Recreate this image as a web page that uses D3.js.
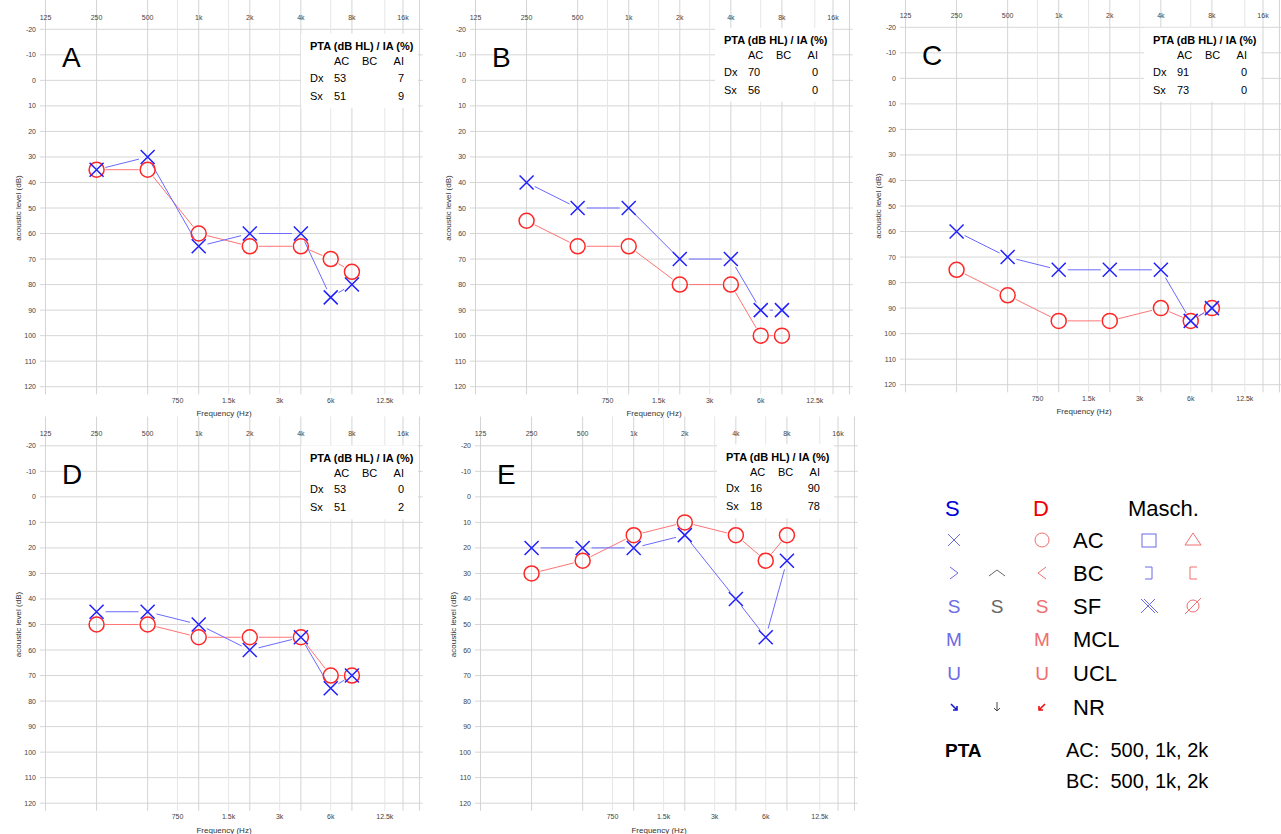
<!DOCTYPE html>
<html>
<head>
<meta charset="utf-8">
<script src="https://cdn.jsdelivr.net/npm/d3@7"></script>
<style>
body { margin: 0; background: #fff; }
text { font-family: "Liberation Sans", Arial, sans-serif; }
</style>
</head>
<body>
<script>
var freqs = [250, 500, 1000, 2000, 4000, 6000, 8000];

// Sx = left ear (blue X), Dx = right ear (red O), air conduction in dB HL
var sxA = [35, 30, 65, 60, 60, 85, 80];
var dxA = [35, 35, 60, 65, 65, 70, 75];
var sxB = [40, 50, 50, 70, 70, 90, 90];
var dxB = [55, 65, 65, 80, 80, 100, 100];
var sxC = [60, 70, 75, 75, 75, 95, 90];
var dxC = [75, 85, 95, 95, 90, 95, 90];
var sxD = [45, 45, 50, 60, 55, 75, 70];
var dxD = [50, 50, 55, 55, 55, 70, 70];
var sxE = [20, 20, 20, 15, 40, 55, 25];
var dxE = [30, 25, 15, 10, 15, 25, 15];

var panelNames = ["A", "B", "C", "D", "E"];
var ptaDx = [53, 70, 91, 53, 16];
var ptaSx = [51, 56, 73, 51, 18];
var aiDx = [7, 0, 0, 0, 90];
var aiSx = [9, 0, 0, 2, 78];

var topTicks = [125, 250, 500, 1000, 2000, 4000, 8000, 16000];
var topLabels = ["125", "250", "500", "1k", "2k", "4k", "8k", "16k"];
var midTicks = [750, 1500, 3000, 6000, 12500];
var midLabels = ["750", "1.5k", "3k", "6k", "12.5k"];
var levelTicks = [-20, -10, 0, 10, 20, 30, 40, 50, 60, 70, 80, 90, 100, 110, 120];

var sxAll = [sxA, sxB, sxC, sxD, sxE];
var dxAll = [dxA, dxB, dxC, dxD, dxE];

// panel placement on the page (and where the PTA box sits inside each)
var layout = [
  {x: 0,   y: 0,     bx: 310, by: 46.7},
  {x: 430, y: 0,     bx: 294, by: 40.7},
  {x: 860, y: -2,    bx: 293, by: 42.7},
  {x: 0,   y: 416.5, bx: 310, by: 41.8},
  {x: 435, y: 416.5, bx: 291, by: 40.8}
];

var blue = "#2020ff", red = "#ff2626";
var blueLine = "#6a6aff", redLine = "#ff7474";

var svg = d3.select("body")
  .append("svg")
  .attr("width", 1281)
  .attr("height", 834);

var x = d3.scaleLog().domain([125, 16000]).range([45.5, 403]);
var y = d3.scaleLinear().domain([-20, 120]).range([29.3, 386.7]);

var left = x(116), right = x(20900), top = y(-22.7), bottom = y(123);

function linkSegments(g, pts, color) {
  var gap = 9;
  for (var i = 0; i < pts.length - 1; i++) {
    var a = pts[i], b = pts[i + 1];
    var dx = b[0] - a[0], dy = b[1] - a[1];
    var len = Math.sqrt(dx * dx + dy * dy);
    if (len <= gap * 2) continue;
    var ux = dx / len, uy = dy / len;
    g.append("line")
      .attr("x1", a[0] + ux * gap).attr("y1", a[1] + uy * gap)
      .attr("x2", b[0] - ux * gap).attr("y2", b[1] - uy * gap)
      .attr("stroke", color)
      .attr("stroke-width", 1);
  }
}

function drawPanel(i) {
  var L = layout[i];
  var g = svg.append("g").attr("transform", "translate(" + L.x + "," + L.y + ")");

  // grid
  g.selectAll(".hgrid").data(levelTicks).enter().append("line")
    .attr("x1", left).attr("x2", right)
    .attr("y1", function(d){ return y(d); }).attr("y2", function(d){ return y(d); })
    .attr("stroke", "#d6d6d6");
  g.selectAll(".vmid").data(midTicks).enter().append("line")
    .attr("x1", function(d){ return x(d); }).attr("x2", function(d){ return x(d); })
    .attr("y1", top).attr("y2", bottom)
    .attr("stroke", "#e6e6e6");
  g.selectAll(".vtop").data(topTicks.concat([20000])).enter().append("line")
    .attr("x1", function(d){ return x(d); }).attr("x2", function(d){ return x(d); })
    .attr("y1", top).attr("y2", bottom)
    .attr("stroke", "#d4d4d4");
  g.append("rect")
    .attr("x", left).attr("y", top)
    .attr("width", right - left).attr("height", bottom - top)
    .attr("fill", "none").attr("stroke", "#cfcfcf");

  // tick labels
  g.selectAll(".tl").data(topTicks).enter().append("text")
    .attr("x", function(d){ return x(d); }).attr("y", 19.5)
    .attr("text-anchor", "middle").attr("font-size", 7).attr("fill", "#444")
    .text(function(d, j){ return topLabels[j]; });
  g.selectAll(".bl").data(midTicks).enter().append("text")
    .attr("x", function(d){ return x(d); }).attr("y", 402.5)
    .attr("text-anchor", "middle").attr("font-size", 7).attr("fill", "#444")
    .text(function(d, j){ return midLabels[j]; });
  g.selectAll(".yl").data(levelTicks).enter().append("text")
    .attr("x", 36).attr("y", function(d){ return y(d) + 2.5; })
    .attr("text-anchor", "end").attr("font-size", 7).attr("fill", "#444")
    .text(function(d){ return d; });

  g.append("text")
    .attr("transform", "translate(21,208) rotate(-90)")
    .attr("text-anchor", "middle").attr("font-size", 8).attr("fill", "#333")
    .text("acoustic level (dB)");
  g.append("text")
    .attr("x", 224).attr("y", 416)
    .attr("text-anchor", "middle").attr("font-size", 8).attr("fill", "#333")
    .text("Frequency (Hz)");

  // panel letter
  g.append("text")
    .attr("x", 62).attr("y", 67)
    .attr("font-size", 28).attr("fill", "#000")
    .text(panelNames[i]);

  // PTA box
  var bx = L.bx, by = L.by;
  g.append("rect")
    .attr("x", bx - 9).attr("y", by - 13)
    .attr("width", 117).attr("height", 74)
    .attr("fill", "#fff");
  g.append("text").attr("x", bx).attr("y", by + 3.5)
    .attr("font-size", 11).attr("font-weight", "bold").text("PTA (dB HL) / IA (%)");
  var rows = [
    ["", "AC", "BC", "AI"],
    ["Dx", ptaDx[i], "", aiDx[i]],
    ["Sx", ptaSx[i], "", aiSx[i]]
  ];
  var rowY = [18.5, 35, 53];
  rows.forEach(function(r, k) {
    g.append("text").attr("x", bx).attr("y", by + rowY[k]).attr("font-size", 11).text(r[0]);
    g.append("text").attr("x", bx + 24).attr("y", by + rowY[k]).attr("font-size", 11).text(r[1]);
    g.append("text").attr("x", bx + 52).attr("y", by + rowY[k]).attr("font-size", 11).text(r[2]);
    g.append("text").attr("x", bx + 94).attr("y", by + rowY[k]).attr("font-size", 11)
      .attr("text-anchor", "end").text(r[3]);
  });

  // curves
  var dxPts = freqs.map(function(f, j){ return [x(f), y(dxAll[i][j])]; });
  var sxPts = freqs.map(function(f, j){ return [x(f), y(sxAll[i][j])]; });
  linkSegments(g, dxPts, redLine);
  linkSegments(g, sxPts, blueLine);

  g.selectAll(".o").data(dxPts).enter().append("circle")
    .attr("cx", function(d){ return d[0]; }).attr("cy", function(d){ return d[1]; })
    .attr("r", 7.5).attr("fill", "none").attr("stroke", red).attr("stroke-width", 1.5);
  g.selectAll(".x").data(sxPts).enter().append("path")
    .attr("d", function(d){
      return "M" + (d[0]-7) + "," + (d[1]-7) + "L" + (d[0]+7) + "," + (d[1]+7) +
             "M" + (d[0]-7) + "," + (d[1]+7) + "L" + (d[0]+7) + "," + (d[1]-7);
    })
    .attr("fill", "none").attr("stroke", blue).attr("stroke-width", 1.5);
}

for (var p = 0; p < 5; p++) drawPanel(p);

// ---- legend ----
var lg = svg.append("g");
var lBlue = "#6b6be6", lRed = "#ee6e6e", lGray = "#666";
var rowsY = {AC: 540, BC: 573, SF: 606, MCL: 639, UCL: 673, NR: 707};
var c1 = 954, c2 = 997, c3 = 1042, cl = 1073, m1 = 1149, m2 = 1193;

lg.append("text").attr("x", 945).attr("y", 516).attr("font-size", 22).attr("fill", "#0000dd").text("S");
lg.append("text").attr("x", 1033).attr("y", 516).attr("font-size", 22).attr("fill", "#ee0000").text("D");
lg.append("text").attr("x", 1128).attr("y", 516).attr("font-size", 22).attr("fill", "#000").text("Masch.");

Object.keys(rowsY).forEach(function(k) {
  lg.append("text").attr("x", cl).attr("y", rowsY[k] + 8).attr("font-size", 22).text(k);
});

function stroke(d, color, w) {
  lg.append("path").attr("d", d).attr("fill", "none")
    .attr("stroke", color).attr("stroke-width", w || 1);
}
function glyph(t, cx, cy, color) {
  lg.append("text").attr("x", cx).attr("y", cy + 7).attr("text-anchor", "middle")
    .attr("font-size", 19).attr("fill", color).text(t);
}

var yy = rowsY.AC;
stroke("M" + (c1-6) + "," + (yy-6) + "L" + (c1+6) + "," + (yy+6) + "M" + (c1-6) + "," + (yy+6) + "L" + (c1+6) + "," + (yy-6), lBlue);
lg.append("circle").attr("cx", c3).attr("cy", yy).attr("r", 7).attr("fill", "none").attr("stroke", lRed);
lg.append("rect").attr("x", m1 - 7).attr("y", yy - 6).attr("width", 14).attr("height", 13)
  .attr("fill", "none").attr("stroke", lBlue);
stroke("M" + (m2-8) + "," + (yy+5) + "L" + m2 + "," + (yy-7) + "L" + (m2+8) + "," + (yy+5) + "Z", lRed);

yy = rowsY.BC;
stroke("M" + (c1-4) + "," + (yy-6) + "L" + (c1+4) + "," + yy + "L" + (c1-4) + "," + (yy+6), lBlue);
stroke("M" + (c2-8) + "," + (yy+3) + "L" + c2 + "," + (yy-3) + "L" + (c2+8) + "," + (yy+3), lGray);
stroke("M" + (c3+4) + "," + (yy-6) + "L" + (c3-4) + "," + yy + "L" + (c3+4) + "," + (yy+6), lRed);
stroke("M" + (m1-4) + "," + (yy-6) + "L" + (m1+3) + "," + (yy-6) + "L" + (m1+3) + "," + (yy+6) + "L" + (m1-4) + "," + (yy+6), lBlue);
stroke("M" + (m2+4) + "," + (yy-6) + "L" + (m2-3) + "," + (yy-6) + "L" + (m2-3) + "," + (yy+6) + "L" + (m2+4) + "," + (yy+6), lRed);

yy = rowsY.SF;
glyph("S", c1, yy, lBlue);
glyph("S", c2, yy, lGray);
glyph("S", c3, yy, lRed);
stroke("M" + (m1-8) + "," + (yy-7) + "L" + (m1+6) + "," + (yy+7) + "M" + (m1-8) + "," + (yy+7) + "L" + (m1+6) + "," + (yy-7) +
       "M" + (m1-5) + "," + (yy-7) + "L" + (m1+9) + "," + (yy+7), lBlue);
lg.append("circle").attr("cx", m2).attr("cy", yy).attr("r", 6).attr("fill", "none").attr("stroke", lRed);
stroke("M" + (m2-8) + "," + (yy+8) + "L" + (m2+8) + "," + (yy-8), lRed);

glyph("M", c1, rowsY.MCL, lBlue);
glyph("M", c3, rowsY.MCL, lRed);
glyph("U", c1, rowsY.UCL, lBlue);
glyph("U", c3, rowsY.UCL, lRed);

yy = rowsY.NR;
stroke("M" + (c1-3) + "," + (yy-3) + "L" + (c1+3) + "," + (yy+3) + "M" + (c1-1) + "," + (yy+3) + "L" + (c1+3) + "," + (yy+3) + "L" + (c1+3) + "," + (yy-1), "#1a1acc", 1.6);
stroke("M" + c2 + "," + (yy-5) + "L" + c2 + "," + (yy+4) + "M" + (c2-3) + "," + (yy+1) + "L" + c2 + "," + (yy+4) + "L" + (c2+3) + "," + (yy+1), "#444", 1);
stroke("M" + (c3+3) + "," + (yy-3) + "L" + (c3-3) + "," + (yy+3) + "M" + (c3+1) + "," + (yy+3) + "L" + (c3-3) + "," + (yy+3) + "L" + (c3-3) + "," + (yy-1), "#ee1111", 1.6);

lg.append("text").attr("x", 945).attr("y", 757).attr("font-size", 19).attr("font-weight", "bold").text("PTA");
lg.append("text").attr("x", 1066).attr("y", 757).attr("font-size", 20).attr("xml:space", "preserve")
  .style("white-space", "pre").text("AC:  500, 1k, 2k");
lg.append("text").attr("x", 1066).attr("y", 788).attr("font-size", 20).attr("xml:space", "preserve")
  .style("white-space", "pre").text("BC:  500, 1k, 2k");
</script>
</body>
</html>
